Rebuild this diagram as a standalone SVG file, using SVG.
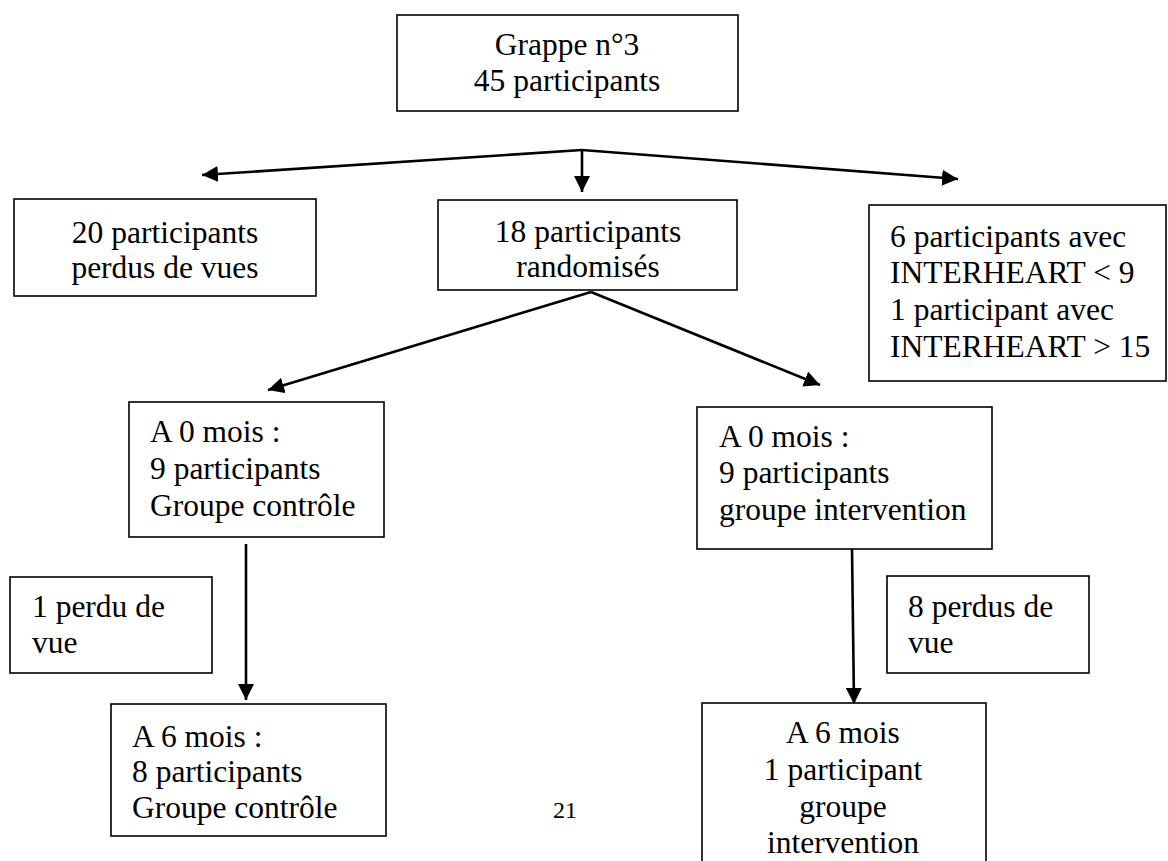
<svg xmlns="http://www.w3.org/2000/svg" width="1168" height="861" viewBox="0 0 1168 861">
<style>
.box{fill:#fff;stroke:#000;stroke-width:1.6}
.t{font-family:"Liberation Serif","Times New Roman",serif;font-size:31.5px;fill:#000}
.c{text-anchor:middle}
.ln{stroke:#000;stroke-width:2.6;fill:none;marker-end:url(#ah)}
</style>
<defs>
<marker id="ah" markerUnits="userSpaceOnUse" markerWidth="20" markerHeight="18" refX="16" refY="8" orient="auto">
<path d="M0,0 L16,8 L0,16 Z" fill="#000"/>
</marker>
</defs>
<rect width="1168" height="861" fill="#fff"/>
<g id="connectors">
<line class="ln" x1="582" y1="150" x2="202" y2="175"/>
<line class="ln" x1="582" y1="150" x2="582" y2="192"/>
<line class="ln" x1="582" y1="150" x2="958" y2="179"/>
<line class="ln" x1="591" y1="292" x2="268" y2="390"/>
<line class="ln" x1="591" y1="292" x2="820" y2="385"/>
<line class="ln" x1="246" y1="544" x2="246" y2="700"/>
<line class="ln" x1="852" y1="549" x2="854" y2="704"/>
</g>
<g id="grappe">
<rect class="box" x="397" y="15" width="341" height="96"/>
<text class="t c" x="567" y="55">Grappe n°3</text>
<text class="t c" x="567" y="91">45 participants</text>
</g>
<g id="perdus20">
<rect class="box" x="14" y="199" width="302" height="97"/>
<text class="t c" x="165" y="243">20 participants</text>
<text class="t c" x="165" y="278">perdus de vues</text>
</g>
<g id="randomises">
<rect class="box" x="438" y="200" width="299" height="90"/>
<text class="t c" x="588" y="242">18 participants</text>
<text class="t c" x="588" y="277">randomisés</text>
</g>
<g id="interheart">
<rect class="box" x="869" y="205" width="297" height="176"/>
<text class="t" x="890" y="247">6 participants avec</text>
<text class="t" x="890" y="283">INTERHEART &lt; 9</text>
<text class="t" x="890" y="320">1 participant avec</text>
<text class="t" x="890" y="357">INTERHEART &gt; 15</text>
</g>
<g id="controle0">
<rect class="box" x="129" y="402" width="255" height="135"/>
<text class="t" x="150" y="442">A 0 mois :</text>
<text class="t" x="150" y="479">9 participants</text>
<text class="t" x="150" y="516">Groupe contrôle</text>
</g>
<g id="intervention0">
<rect class="box" x="697" y="407" width="295" height="142"/>
<text class="t" x="719" y="447">A 0 mois :</text>
<text class="t" x="719" y="483">9 participants</text>
<text class="t" x="719" y="520">groupe intervention</text>
</g>
<g id="perdu1">
<rect class="box" x="10" y="577" width="202" height="96"/>
<text class="t" x="32" y="617">1 perdu de</text>
<text class="t" x="32" y="653">vue</text>
</g>
<g id="perdus8">
<rect class="box" x="887" y="576" width="202" height="97"/>
<text class="t" x="908" y="617">8 perdus de</text>
<text class="t" x="908" y="653">vue</text>
</g>
<g id="controle6">
<rect class="box" x="111" y="704" width="275" height="132"/>
<text class="t" x="132" y="747">A 6 mois :</text>
<text class="t" x="132" y="782">8 participants</text>
<text class="t" x="132" y="818">Groupe contrôle</text>
</g>
<g id="intervention6">
<rect class="box" x="702" y="703" width="284" height="170"/>
<text class="t c" x="843" y="743">A 6 mois</text>
<text class="t c" x="843" y="780">1 participant</text>
<text class="t c" x="843" y="817">groupe</text>
<text class="t c" x="843" y="853">intervention</text>
</g>
<text x="565" y="818" text-anchor="middle" style="font-family:'Liberation Serif','Times New Roman',serif;font-size:24px">21</text>
</svg>
